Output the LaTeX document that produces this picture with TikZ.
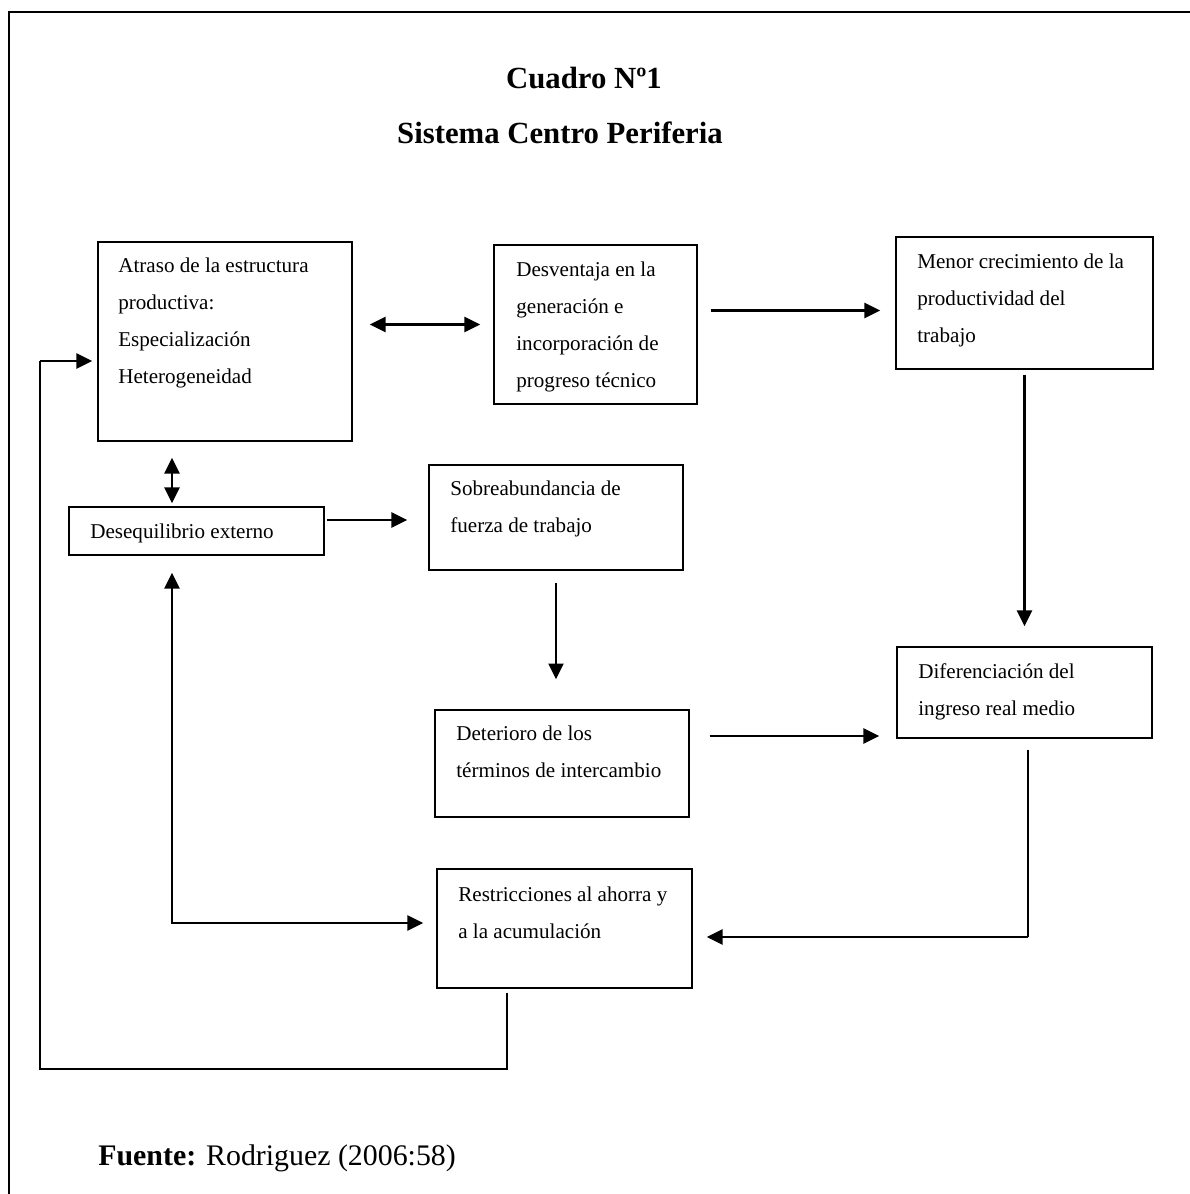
\documentclass[tikz,border=0pt]{standalone}
\usepackage{fontspec}
\setmainfont{Liberation Serif}
\usetikzlibrary{arrows.meta, fit}

\begin{document}
\begin{tikzpicture}
[x=0.02cm, y=-0.02cm,
 box/.style={draw, line width=0.8pt, inner sep=0pt},
 txt/.style={anchor=north west, align=left, inner sep=0pt,
             font=\fontsize{12}{21}\selectfont},
 heading/.style={anchor=base, inner sep=0pt,
             font=\fontsize{17.5}{21}\selectfont\bfseries},
 link/.style={-{Triangle[length=9pt,width=8.5pt]}, line width=1.3pt},
 dlink/.style={{Triangle[length=9pt,width=8.5pt]}-{Triangle[length=9pt,width=8.5pt]},
             line width=1.3pt},
 thinline/.style={line width=0.6pt}]
\useasboundingbox (0,0) rectangle (1190,1194);
\draw[line width=1.1pt] (9,1220) |- (1220,12);

% titulo
\node[heading] (cuadro) at (584,88) {Cuadro Nº1};
\node[heading] (sistema) at (560,143) {Sistema Centro Periferia};

% cajas
\node[box, fit={(98,242) (352,441)}] (atraso) {};
\node[box, fit={(494,245) (697,404)}] (desventaja) {};
\node[box, fit={(896,237) (1153,369)}] (menor) {};
\node[box, fit={(69,507) (324,555)}] (desequilibrio) {};
\node[box, fit={(429,465) (683,570)}] (sobre) {};
\node[box, fit={(435,710) (689,817)}] (deterioro) {};
\node[box, fit={(897,647) (1152,738)}] (diferencia) {};
\node[box, fit={(437,869) (692,988)}] (restr) {};

\node[txt] (atrasotxt) at (118,258) {Atraso de la estructura\\ productiva:\\ Especialización\\ Heterogeneidad};
\node[txt] (desventajatxt) at (516,262) {Desventaja en la\\ generación e\\ incorporación de\\ progreso técnico};
\node[txt] (menortxt) at (917,254) {Menor crecimiento de la\\ productividad del\\ trabajo};
\node[txt] (desequilibriotxt) at (90,524) {Desequilibrio externo};
\node[txt] (sobretxt) at (450,481) {Sobreabundancia de\\ fuerza de trabajo};
\node[txt] (deteriorotxt) at (456,726) {Deterioro de los\\ términos de intercambio};
\node[txt] (diferenciatxt) at (918,663) {Diferenciación del\\ ingreso real medio};
\node[txt] (restrtxt) at (458,887) {Restricciones al ahorra y\\ a la acumulación};

% flechas
\coordinate (col) at (172,0);
\coordinate (rc) at (1028,937);
\coordinate (lb) at (40,1069);
\coordinate (lc) at (40,361);

\draw[dlink, shorten <=0.34cm, shorten >=0.26cm] (atraso.east |- desventaja.west) -- (desventaja.west);
\draw[link, shorten <=0.26cm, shorten >=0.3cm] ([yshift=0.28cm]desventaja.east) -- ([yshift=0.28cm]desventaja.east -| menor.west);
\draw[link, shorten <=0.1cm, shorten >=0.4cm] (menor.south) -- (diferencia.north);
\draw[dlink, shorten <=0.32cm, shorten >=0.06cm] (atraso.south -| col) -- (desequilibrio.north -| col);
\draw[link, shorten <=0.04cm, shorten >=0.42cm] ([yshift=0.22cm]desequilibrio.east) -- ([yshift=0.22cm]desequilibrio.east -| sobre.west);
\draw[link, shorten <=0.24cm, shorten >=0.6cm] (sobre.south) -- (sobre.south |- deterioro.north);
\draw[link, shorten <=0.4cm, shorten >=0.34cm] ([yshift=0.55cm]deterioro.east) -- ([yshift=0.55cm]deterioro.east -| diferencia.west);
\draw[thinline, shorten <=0.22cm] (diferencia.south -| rc) -- (rc);
\draw[link, shorten >=0.28cm] (rc) -- (rc -| restr.east);
\draw[dlink, shorten <=0.34cm, shorten >=0.26cm] (desequilibrio.south -| col) |- ([yshift=0.11cm]restr.west);
\draw[thinline, shorten <=0.08cm] ([xshift=-1.15cm]restr.south) |- (lb) -- (lc);
\draw[link, shorten >=0.1cm] (lc) -- (lc -| atraso.west);

\node[anchor=base west, inner sep=0pt, font=\fontsize{17}{20}\selectfont] (fuente) at (98,1165) {\textbf{Fuente:} Rodriguez (2006:58)};
\end{tikzpicture}
\end{document}
